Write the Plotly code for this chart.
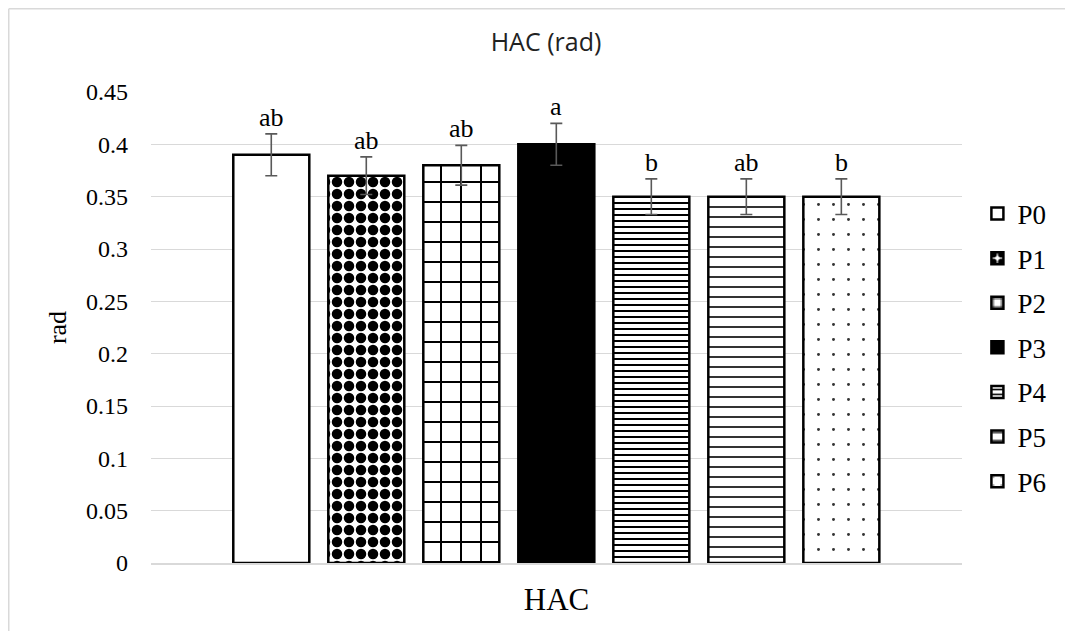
import plotly.graph_objects as go

# ---- data ----
treatments = ["P0", "P1", "P2", "P3", "P4", "P5", "P6"]
means = [0.39, 0.37, 0.38, 0.40, 0.35, 0.35, 0.35]
errors = [0.020, 0.018, 0.019, 0.020, 0.017, 0.017, 0.017]
letters = ["ab", "ab", "ab", "a", "b", "ab", "b"]
y_ticks = [0, 0.05, 0.1, 0.15, 0.2, 0.25, 0.3, 0.35, 0.4, 0.45]
y_tick_labels = ["0", "0.05", "0.1", "0.15", "0.2", "0.25", "0.3", "0.35", "0.4", "0.45"]

# ---- styles ----
SERIF = "'Liberation Serif', 'Times New Roman', serif"


def pat(shape, size, solidity, fg="black"):
    return dict(shape=shape, size=size, solidity=solidity, fgcolor=fg, bgcolor="white", fgopacity=1)


fills = [
    dict(color="white"),
    dict(color="white", pattern=pat(".", 12, 0.6)),
    dict(color="white", pattern=pat("+", 20, 0.19)),
    dict(color="black"),
    dict(color="white", pattern=pat("-", 6, 1 / 3)),
    dict(color="white", pattern=pat("-", 10, 0.2, "#333333")),
    dict(color="white", pattern=pat(".", 15, 0.03, "#333333")),
]

W, H = 1065, 623
L, T, PW, PH = 143, 84, 811, 471

fig = go.Figure()
for i, name in enumerate(treatments):
    marker = dict(fills[i])
    marker["line"] = dict(color="black", width=2.5)
    fig.add_trace(go.Bar(
        x=[i], y=[means[i]], name=name, width=0.8,
        marker=marker, legendgroup=name,
        error_y=dict(type="data", array=[errors[i]], color="#595959", thickness=1.6, width=6),
    ))
    fig.add_annotation(
        x=i, y=means[i] + errors[i], text=letters[i], showarrow=False,
        yanchor="bottom", yshift=0, font=dict(family=SERIF, size=26, color="black"),
    )

frame_x = (0.75 - L) / PW
frame_y = (T + PH - 0.75) / PH
fig.update_layout(
    width=W, height=H,
    margin=dict(l=L, r=W - L - PW, t=T, b=H - T - PH),
    paper_bgcolor="white", plot_bgcolor="white",
    barmode="overlay",
    title=dict(text="HAC (rad)", x=538 / W, xref="container", xanchor="center",
               y=1 - 34 / H, yanchor="middle",
               font=dict(family="Open Sans, sans-serif", size=25, color="#222222")),
    legend=dict(x=1.019, xanchor="left", y=0.4575, yanchor="middle",
                font=dict(family=SERIF, size=27, color="black"),
                tracegroupgap=6.5, bgcolor="rgba(0,0,0,0)"),
    showlegend=True,
    shapes=[
        dict(type="line", xref="paper", yref="paper", x0=frame_x, x1=frame_x, y0=-0.2, y1=frame_y,
             line=dict(color="#d9d9d9", width=1.5), layer="below"),
        dict(type="line", xref="paper", yref="paper", x0=frame_x, x1=1.3, y0=frame_y, y1=frame_y,
             line=dict(color="#d9d9d9", width=1.5), layer="below"),
    ],
)
fig.update_xaxes(range=[-1.266, 7.27], showticklabels=False, showgrid=False, zeroline=False,
                 showline=True, linecolor="#d9d9d9", linewidth=1.5,
                 title=dict(text="HAC", font=dict(family=SERIF, size=31, color="black"), standoff=25))
fig.update_yaxes(range=[0, 0.45], tickvals=y_ticks, ticktext=y_tick_labels,
                 showgrid=True, gridcolor="#d9d9d9", gridwidth=1.3, zeroline=False, showline=False,
                 tickfont=dict(family=SERIF, size=24, color="black"), ticklabelstandoff=22,
                 title=dict(text="rad", font=dict(family=SERIF, size=26, color="black"), standoff=11))

fig.write_html("out.html")
